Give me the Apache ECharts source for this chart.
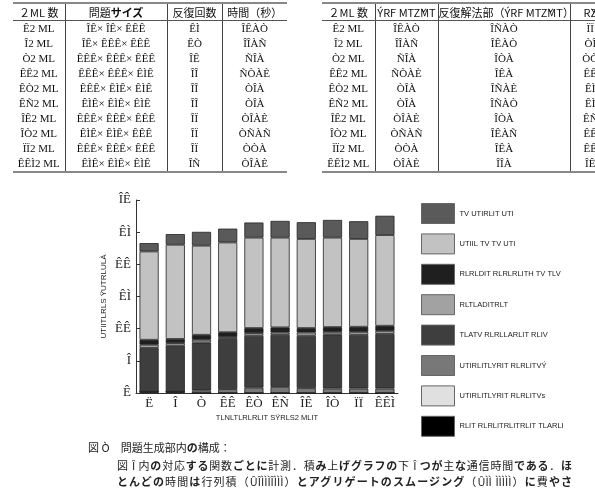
<!DOCTYPE html>
<html><head><meta charset="utf-8">
<script src="https://cdn.jsdelivr.net/npm/echarts@6/dist/echarts.min.js"></script>
<style>
body{margin:0;background:#fff;width:595px;height:489px;overflow:hidden;position:relative;}
#chart{position:absolute;left:0;top:0;width:595px;height:489px;}
.tb{position:absolute;top:2px;overflow:hidden;}
table{border-collapse:collapse;table-layout:fixed;font-family:'Liberation Serif',serif;font-size:11px;color:#111;}
th{font-family:'Noto Sans CJK JP';font-weight:normal;font-size:11px;height:15px;padding:0;border-top:2px solid #888;border-bottom:1px solid #555;white-space:nowrap;overflow:hidden;}
td{height:15px;padding:0;text-align:center;white-space:nowrap;line-height:15px;overflow:hidden;}
tr:last-child td{border-bottom:2px solid #888;}
th+th,td+td{border-left:1px solid #444;}
.cap{position:absolute;font-family:'Noto Sans CJK JP';font-size:11px;color:#222;white-space:nowrap;line-height:14px;}
.j{text-align:justify;text-align-last:justify;}
</style></head>
<body>
<div id="chart"></div>
<div class="tb" id="t1" style="left:13px;width:276px;"></div>
<div class="tb" id="t2" style="left:322px;width:273px;"></div>
<div class="cap" style="left:88px;top:440px;">図 Ò　問題生成部内<b>の</b>構成：</div>
<div class="cap j" style="left:117px;top:458px;width:455px;">図 Î 内<b>の</b>対応<b>する</b>関数<b>ごとに</b>計測．積<b>み</b>上<b>げグラフの</b>下 Î <b>つが</b>主<b>な</b>通信時間<b>である</b>．<b>ほ</b></div>
<div class="cap j" style="left:117px;top:474px;width:455px;"><b>とんどの</b>時間<b>は</b>行列積（ÛÎÌÌÌÎÌÌÌ）<b>とアグリゲートのスムージング</b>（ÛÌÌ ÌÌÌÌÌ）<b>に</b>費<b>やさ</b></div>
<script>
// ---- table data ----
const procLabels = ['Ê2 ML','Î2 ML','Ò2 ML','ÊÊ2 ML','ÊÒ2 ML','ÊÑ2 ML','ÎÊ2 ML','ÎÒ2 ML','ÏÏ2 ML','ÊÊÌ2 ML'];
const problemSizes = ['ÎÊ× ÎÊ× ÊÊÊ','ÎÊ× ÊÊÊ× ÊÊÊ','ÊÊÊ× ÊÊÊ× ÊÊÊ','ÊÊÊ× ÊÊÊ× ÊÌÊ','ÊÊÊ× ÊÌÊ× ÊÌÊ','ÊÌÊ× ÊÌÊ× ÊÌÊ','ÊÊÊ× ÊÊÊ× ÊÊÊ','ÊÌÊ× ÊÌÊ× ÊÊÊ','ÊÊÊ× ÊÊÊ× ÊÊÊ','ÊÌÊ× ÊÌÊ× ÊÌÊ'];
const iterCounts = ['ÊÌ','ÊÒ','ÎÊ','ÎÎ','ÎÎ','ÎÎ','ÎÏ','ÎÏ','ÎÏ','ÎÑ'];
const totalTimes = ['ÎÊÀÒ','ÎÎÀÑ','ÑÎÀ','ÑÒÀÈ','ÒÎÀ','ÒÎÀ','ÒÎÀÈ','ÒÑÀÑ','ÒÒÀ','ÒÎÀÈ'];
const solverTimes = ['ÎÑÀÒ','ÎÊÀÒ','ÎÒÀ','ÎÊÀ','ÎÑÀÈ','ÎÑÀÒ','ÎÒÀ','ÎÊÀÑ','ÎÊÀ','ÎÎÀ'];
const lastCol = ['ÏÏ','ÒÎ','ÒÒ','ÊÊ','ÊÌ','ÊÌ','ÊÑ','ÊÊ','ÊÊ','ÎÊ'];
const t1Head = ['２ML 数','問題<b>サイズ</b>','反復回数','時間（秒）'];
const t2Head = ['２ML 数','ÝRF MTŽMT','反復解法部（ÝRF MTŽMT）','ŘŽ'];

function buildTable(el, head, widths, cols){
  const tw = widths.reduce((a,b)=>a+b,0);
  let h='<table style="width:'+tw+'px"><colgroup>'+widths.map(w=>'<col style="width:'+w+'px">').join('')+'</colgroup><tr>'+head.map(x=>'<th>'+x+'</th>').join('')+'</tr>';
  for(let r=0;r<cols[0].length;r++){
    h+='<tr>'+cols.map(c=>'<td>'+c[r]+'</td>').join('')+'</tr>';
  }
  h+='</table>';
  document.getElementById(el).innerHTML=h;
}
buildTable('t1',t1Head,[52,102,55,65],[procLabels,problemSizes,iterCounts,totalTimes]);
buildTable('t2',t2Head,[53,63,132,40],[procLabels,totalTimes,solverTimes,lastCol]);

// ---- chart data ----
const categories = ['Ë','Î','Ò','ÊÊ','ÊÒ','ÊÑ','ÎÊ','ÎÒ','ÏÏ','ÊÊÌ'];
const yTickLabels = ['Ê','Î','ÊÊ','ÊÌ','ÊÊ','ÊÌ','ÎÊ'];
const seriesNames = [
  'TV UTIRLIT UTI',
  'UTIIL TV TV UTI',
  'RLRLDIT RLRLRLITH TV TLV',
  'RLTLADITRLT',
  'TLATV RLRLLARLIT RLIV',
  'UTIRLITLYRIT RLRLITVÝ',
  'UTIRLITLYRIT RLRLITVs',
  'RLIT RLRLITRLITRLIT TLARLI'
];
const s1 = [0.26,0.33,0.43,0.43,0.47,0.52,0.52,0.55,0.55,0.60];
const s2 = [2.745,2.93,2.77,2.79,2.81,2.79,2.77,2.78,2.73,2.82];
const s3 = [0.155,0.13,0.155,0.15,0.16,0.16,0.14,0.15,0.16,0.16];
const s4 = [0.10,0.08,0.085,0.06,0.08,0.07,0.10,0.08,0.09,0.09];
const s5 = [1.36,1.43,1.49,1.56,1.61,1.62,1.625,1.68,1.67,1.70];
const s6 = [0,0,0.08,0.12,0.17,0.19,0.155,0.14,0.14,0.14];
const s7 = [0,0,0,0,0,0,0,0,0,0];
const s8 = [0.04,0.04,0,0,0,0,0,0,0,0];
const colors = ['#5a5a5a','#c2c2c2','#1f1f1f','#a2a2a2','#3e3e3e','#787878','#e0e0e0','#000000'];
const stackData = [s1,s2,s3,s4,s5,s6,s7,s8];

const chart = echarts.init(document.getElementById('chart'),null,{renderer:'canvas'});
const series = [];
for(let i=7;i>=0;i--){
  series.push({
    name: seriesNames[i], type:'bar', stack:'t', data: stackData[i],
    barCategoryGap:'27%',
    itemStyle:{color:colors[i], borderColor:'#222', borderWidth:0.8},
    emphasis:{disabled:true}
  });
}
chart.setOption({
  animation:false,
  backgroundColor:'transparent',
  grid:{left:136,right:197,top:200,bottom:96},
  legend:{
    orient:'vertical', left:416, top:198, itemWidth:33, itemHeight:20, itemGap:9.4,
    icon:'rect', data: seriesNames.slice(),
    textStyle:{fontFamily:'Liberation Sans', fontSize:7.5, color:'#222'},
    itemStyle:{borderColor:'#666',borderWidth:1}
  },
  xAxis:{
    type:'category', data:categories,
    name:'TLNLTLRLRLIT SŸRLS2 MLIT', nameLocation:'middle', nameGap:21,
    nameTextStyle:{fontFamily:'Liberation Sans', fontSize:7.5, color:'#222'},
    axisLine:{lineStyle:{color:'#333',width:1}},
    axisTick:{inside:true,length:4,lineStyle:{color:'#333'}},
    axisLabel:{interval:0,fontFamily:'Liberation Serif', fontSize:13, color:'#222', margin:4}
  },
  yAxis:{
    type:'value', min:0, max:6, interval:1,
    name:'UTIITLRLS ŸUTRLULÀ', nameLocation:'middle', nameGap:28, nameRotate:90,
    nameTextStyle:{fontFamily:'Liberation Sans', fontSize:8, color:'#222'},
    axisLine:{show:true,lineStyle:{color:'#333',width:1}},
    axisTick:{show:true,inside:true,length:4,lineStyle:{color:'#333'}},
    splitLine:{show:false},
    axisLabel:{fontFamily:'Liberation Serif', fontSize:13, color:'#222', margin:5,
      formatter:v=>yTickLabels[Math.round(v)]}
  },
  series: series
});
</script>
</body></html>
